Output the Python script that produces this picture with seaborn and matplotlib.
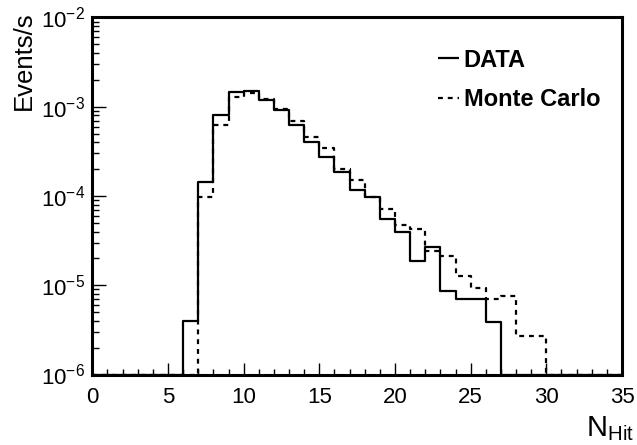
import numpy as np
import pandas as pd
import matplotlib
matplotlib.use("Agg")
import matplotlib.pyplot as plt
import seaborn as sns
from matplotlib.ticker import LogLocator, MultipleLocator, LogFormatterSciNotation, NullFormatter

sns.set_theme(style="white")
plt.rcParams['font.family'] = ['Liberation Sans', 'DejaVu Sans']
plt.rcParams['mathtext.default'] = 'regular'
plt.rcParams['mathtext.fontset'] = 'custom'
plt.rcParams['mathtext.rm'] = 'Liberation Sans'
plt.rcParams['text.color'] = 'black'

# Bin edges (N_Hit) and contents (Events/s), bins of width 1 from 0 to 35
bin_edges = list(range(0, 36))
data_rate = [0, 0, 0, 0, 0, 0,
             4.0e-6, 1.42e-4, 8.0e-4, 1.47e-3, 1.52e-3, 1.19e-3, 9.2e-4, 6.2e-4,
             4.05e-4, 2.75e-4, 1.87e-4, 1.16e-4, 9.8e-5, 5.5e-5, 3.97e-5, 1.88e-5,
             2.70e-5, 8.6e-6, 7.06e-6, 7.06e-6, 3.9e-6,
             0, 0, 0, 0, 0, 0, 0, 0]
mc_rate = [0, 0, 0, 0, 0, 0, 0,
           9.8e-5, 6.3e-4, 1.29e-3, 1.41e-3, 1.21e-3, 9.4e-4, 6.95e-4,
           4.53e-4, 3.41e-4, 1.99e-4, 1.53e-4, 9.8e-5, 7.1e-5, 4.69e-5, 4.23e-5,
           2.42e-5, 2.12e-5, 1.27e-5, 9.2e-6, 7.0e-6, 7.6e-6, 2.72e-6, 2.72e-6,
           0, 0, 0, 0, 0]
series_labels = ["DATA", "Monte Carlo"]
x_ticks = [0, 5, 10, 15, 20, 25, 30, 35]

ymin, ymax = 1e-6, 1e-2

def step_frame(vals, label):
    v = np.asarray(vals, dtype=float)
    v = np.where(v > 0, v, ymin)
    v = np.append(v, v[-1])
    return pd.DataFrame({"x": bin_edges, "y": v, "series": label})

df = pd.concat([step_frame(data_rate, series_labels[0]),
                step_frame(mc_rate, series_labels[1])], ignore_index=True)

fig = plt.figure(figsize=(6.37, 4.45), dpi=100)
ax = fig.add_axes([0.1449, 0.1584, 0.8316, 0.8023])

sns.lineplot(data=df, x="x", y="y", hue="series", style="series",
             palette=["black", "black"], dashes=[(1, 0), (2.2, 2.2)],
             drawstyle="steps-post", linewidth=1.6, ax=ax, legend=True,
             estimator=None, sort=False)

ax.set_yscale("log")
ax.set_xlim(0, 35)
ax.set_ylim(ymin, ymax)

ax.set_xticks(x_ticks)
ax.xaxis.set_minor_locator(MultipleLocator(1))
ax.yaxis.set_major_locator(LogLocator(base=10, numticks=10))
ax.yaxis.set_minor_locator(LogLocator(base=10, subs=np.arange(2, 10), numticks=20))
ax.yaxis.set_major_formatter(LogFormatterSciNotation())
ax.yaxis.set_minor_formatter(NullFormatter())

ax.tick_params(axis="both", which="both", direction="in", colors="black",
               labelcolor="black", labelsize=16,
               top=False, right=False, bottom=True, left=True)
ax.tick_params(axis="x", which="major", length=8.5, width=1.0, pad=9)
ax.tick_params(axis="x", which="minor", length=4.5, width=1.0)
ax.tick_params(axis="y", which="major", length=10, width=1.0, pad=5)
ax.tick_params(axis="y", which="minor", length=5, width=1.0)

for s in ax.spines.values():
    s.set_linewidth(2.2)
    s.set_color("black")
    s.set_visible(True)

ax.set_xlabel("")
ax.set_ylabel("")
fig.text(0.038, 0.975, "Events/s", rotation=90, ha="center", va="top", fontsize=18.5)
fig.text(0.995, 0.005, r"$N_{Hit}$", ha="right", va="bottom", fontsize=21)

handles, labels = ax.get_legend_handles_labels()
leg = ax.legend(handles, labels, loc="upper left", bbox_to_anchor=(0.6526, 0.913),
                frameon=False, handlelength=0.87, handletextpad=0.22,
                borderpad=0, borderaxespad=0,
                labelspacing=0.7, prop={"weight": "bold", "size": 17})

fig.savefig("out.png", dpi=100)
